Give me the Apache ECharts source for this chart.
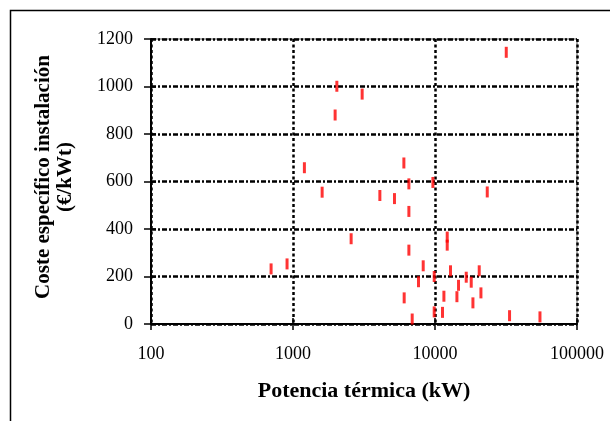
<!DOCTYPE html>
<html>
<head>
<meta charset="utf-8">
<script src="https://cdn.jsdelivr.net/npm/echarts@6/dist/echarts.min.js"></script>
<style>html,body{margin:0;padding:0;background:#fff}#c{width:610px;height:421px}</style>
</head>
<body>
<div id="c"></div>
<script>
// Potencia térmica (kW)
var potencia = [701, 908, 1203, 1604, 2036, 1980, 3069, 2567, 4090, 5183, 6037, 6548, 6548, 6548, 6066, 6908, 7651, 8259, 9666, 9872, 9872, 11296, 11554, 12190, 12190, 12862, 14268, 14645, 16596, 17993, 18497, 20485, 21059, 23334, 31755, 33497, 54855];
// Coste específico instalación (€/kWt)
var coste    = [232, 253, 658, 555, 1001, 880, 968, 359, 541, 528, 678, 590, 474, 311, 110, 21, 178, 245, 596, 200, 51, 49, 117, 366, 332, 224, 115, 163, 197, 176, 89, 224, 131, 556, 1144, 35, 30];
var xTicks = [100, 1000, 10000, 100000];
var yTicks = [0, 200, 400, 600, 800, 1000, 1200];

var pts = potencia.map(function (v, i) { return [v, coste[i]]; });
var serif = '"Liberation Serif", "Times New Roman", serif';
var xMin = xTicks[0], xMax = xTicks[xTicks.length - 1];
var yMin = yTicks[0], yMax = yTicks[yTicks.length - 1];
var chart = echarts.init(document.getElementById('c'), null, {renderer: 'canvas'});
chart.setOption({
  animation: false,
  backgroundColor: '#fff',
  graphic: [{
    type: 'rect', shape: {x: 10.5, y: 10.5, width: 700, height: 500},
    style: {fill: 'none', stroke: '#000', lineWidth: 1.5}, z: 0
  }],
  grid: {left: 151, right: 33, top: 39, bottom: 97, show: true, borderColor: '#555', borderWidth: 1},
  xAxis: [{
    type: 'log', logBase: 10, min: xMin, max: xMax,
    axisLine: {show: true, onZero: false, lineStyle: {color: '#000', width: 2}},
    axisTick: {show: true, length: 6, lineStyle: {color: '#000', width: 1.5}},
    axisLabel: {color: '#000', fontFamily: serif, fontSize: 18, margin: 21,
      formatter: function (v) { return String(Math.round(v)); }},
    splitLine: {show: true, lineStyle: {color: '#000', width: 2.5, type: [3, 2.5]}},
    minorTick: {show: false},
    name: 'Potencia térmica (kW)', nameLocation: 'middle', nameGap: 56,
    nameTextStyle: {color: '#000', fontFamily: serif, fontSize: 22, fontWeight: 'bold'}
  }, {
    type: 'log', logBase: 10, min: xMin, max: xMax, position: 'bottom',
    axisLine: {show: false}, axisLabel: {show: false}, splitLine: {show: false},
    axisTick: {show: true, inside: true, length: 6, lineStyle: {color: '#000', width: 1.5}}
  }],
  yAxis: [{
    type: 'value', min: yMin, max: yMax, interval: 200,
    axisLine: {show: true, onZero: false, lineStyle: {color: '#000', width: 2}},
    axisTick: {show: true, length: 7, lineStyle: {color: '#000', width: 1.5}},
    axisLabel: {color: '#000', fontFamily: serif, fontSize: 18, margin: 18,
      formatter: function (v) { return String(v); }},
    splitLine: {show: true, lineStyle: {color: '#000', width: 2.5, type: [5, 2, 2, 2]}},
    name: 'Coste específico instalación\n(€/kWt)', nameLocation: 'middle', nameRotate: 90, nameGap: 74,
    nameTextStyle: {color: '#000', fontFamily: serif, fontSize: 21, fontWeight: 'bold', lineHeight: 22,
      align: 'center', padding: [0, 0, 0, 9]}
  }, {
    type: 'value', min: yMin, max: yMax, interval: 200, position: 'left',
    axisLine: {show: false}, axisLabel: {show: false}, splitLine: {show: false},
    axisTick: {show: true, inside: true, length: 5, lineStyle: {color: '#000', width: 1.5}}
  }],
  series: [{
    type: 'scatter', data: pts, symbol: 'rect', symbolSize: [3, 11],
    xAxisIndex: 0, yAxisIndex: 0,
    itemStyle: {color: '#ff0000'}, z: 5
  }]
});
</script>
</body>
</html>
